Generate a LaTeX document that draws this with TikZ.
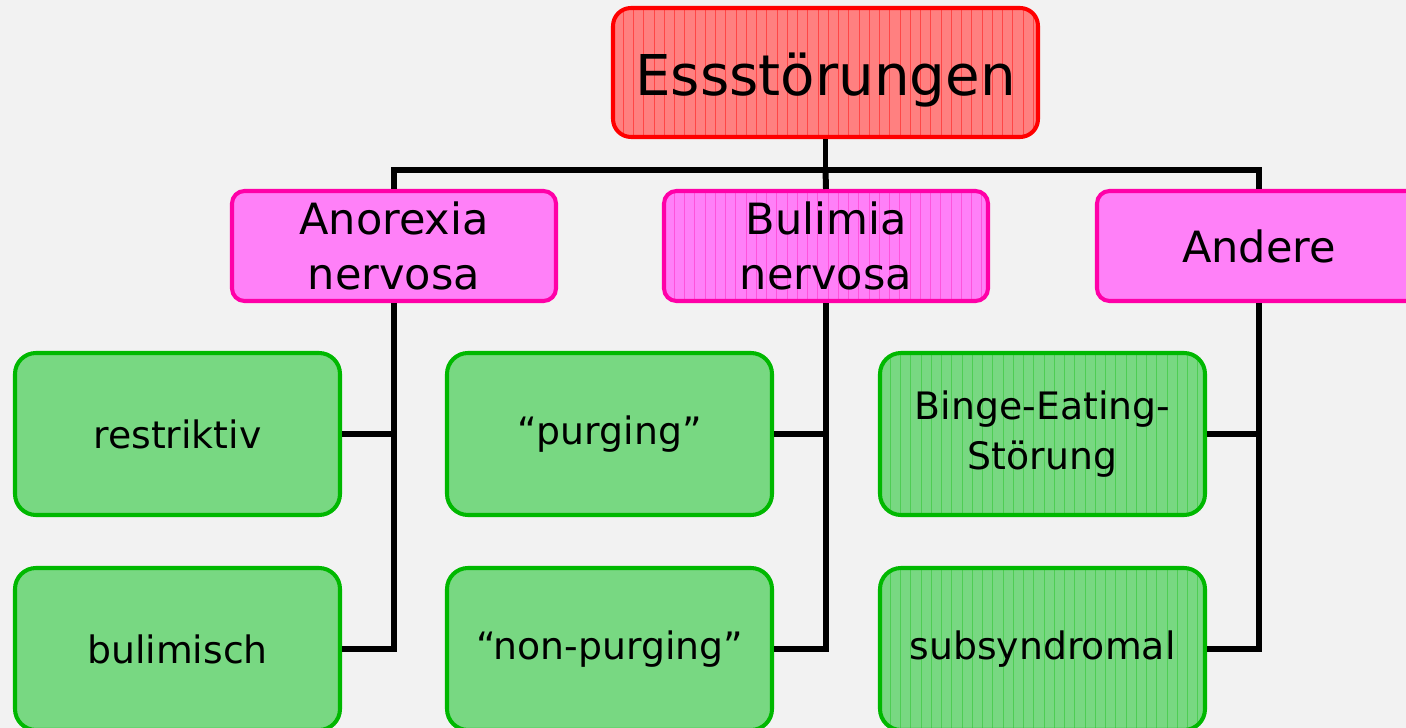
\documentclass[tikz,border=0pt]{standalone}
\usepackage{fontspec}
\setmainfont{DejaVu Sans}
\definecolor{bgray}{HTML}{F2F2F2}
\definecolor{rootfill}{HTML}{FF8080}
\definecolor{rootline}{HTML}{FF0000}
\definecolor{subfill}{HTML}{FF80F8}
\definecolor{subline}{HTML}{FF00A8}
\definecolor{leaffill}{HTML}{78D882}
\definecolor{leafline}{HTML}{00B800}
\tikzset{hatched/.style={path picture={
  \foreach \i in {1,...,42}
    \draw[#1,line width=.45pt] ([xshift=\i*.205cm]path picture bounding box.south west) -- ([xshift=\i*.205cm]path picture bounding box.north west);}}}
\tikzstyle{box}=[rounded corners=.3cm, line width=2.3pt, inner sep=0pt, align=center]
\tikzstyle{root box}=[box, rounded corners=.36cm, draw=rootline, fill=rootfill, minimum width=8.5cm, minimum height=2.58cm, font=\fontsize{32}{38}\selectfont]
\tikzstyle{group box}=[box, rounded corners=.25cm, draw=subline, fill=subfill, minimum width=6.48cm, minimum height=2.2cm, font=\fontsize{24.5}{31}\selectfont]
\tikzstyle{leaf box}=[box, rounded corners=.42cm, draw=leafline, fill=leaffill, minimum width=6.5cm, minimum height=3.24cm, font=\fontsize{21.5}{28}\selectfont]
\tikzstyle{link}=[line width=3.4pt]

\begin{document}
\begin{tikzpicture}
    \fill[bgray] (0,0) rectangle (28.12,-14.56);
    \useasboundingbox (0,0) rectangle (28.12,-14.56);

    % Top
    \draw (16.51,-1.45) node[root box, hatched={rootline!45!rootfill}] (root) {\raisebox{-.16cm}[\height][\depth]{Essstörungen}};

    % Groups
    \draw (7.88,-4.92) node[group box] (anor) {Anorexia\\nervosa};
    \draw (16.52,-4.92) node[group box, hatched={subline!35!subfill}] (bul) {Bulimia\\nervosa};
    \draw (25.18,-4.92) node[group box] (andere) {Andere};

    % Subtypes
    \draw (3.55,-8.68) node[leaf box] (restr) {restriktiv};
    \draw (3.55,-12.98) node[leaf box] (bulim) {bulimisch};
    \draw (12.19,-8.68) node[leaf box] (purg) {“purging”};
    \draw (12.19,-12.98) node[leaf box] (nonpurg) {“non-purging”};
    \draw (20.85,-8.68) node[leaf box, hatched={leafline!35!leaffill}] (binge) {Binge-Eating-\\Störung};
    \draw (20.85,-12.98) node[leaf box, hatched={leafline!35!leaffill}] (subsyn) {subsyndromal};

    % Links
    \coordinate (bar) at ([yshift=-.62cm]root.south);
    \draw[link] (root.south) -- (bar);
    \draw[link] (anor.north) |- (bar) -| (andere.north);
    \draw[link] (bar) -- (bul.north);
    \draw[link] (anor.south) |- (bulim.east);
    \draw[link] (restr.east) -- (restr.east -| anor.south);
    \draw[link] (bul.south) |- (nonpurg.east);
    \draw[link] (purg.east) -- (purg.east -| bul.south);
    \draw[link] (andere.south) |- (subsyn.east);
    \draw[link] (binge.east) -- (binge.east -| andere.south);
\end{tikzpicture}
\end{document}
